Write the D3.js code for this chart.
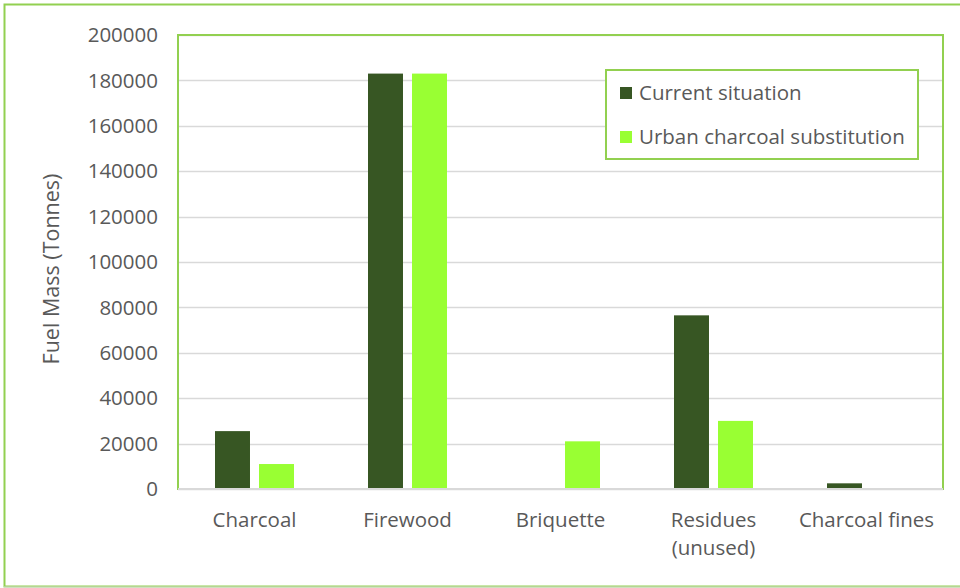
<!DOCTYPE html>
<html><head><meta charset="utf-8">
<script src="https://cdn.jsdelivr.net/npm/d3@7"></script>
<style>body{margin:0;background:#fff;} svg{display:block;}</style>
</head><body>
<svg id="c" width="960" height="588"></svg>
<script>
const categories = ["Charcoal", "Firewood", "Briquette", "Residues\n(unused)", "Charcoal fines"];
const seriesNames = ["Current situation", "Urban charcoal substitution"];
const currentSituation = [25500, 183000, 0, 76500, 2500];
const urbanSubstitution = [11000, 183000, 21000, 30000, 0];
const yTicks = [0, 20000, 40000, 60000, 80000, 100000, 120000, 140000, 160000, 180000, 200000];
const colors = ["#375623", "#99FF33"];

const svg = d3.select("#c");
const font = "'Open Sans', 'Noto Sans', sans-serif";
const textColor = "#595959";

// outer border
svg.append("rect").attr("x", 4.5).attr("y", 4.5).attr("width", 960).attr("height", 582)
  .attr("fill", "none").attr("stroke", "#92D050").attr("stroke-width", 2);
svg.append("line").attr("x1", 4).attr("x2", 960).attr("y1", 587).attr("y2", 587).attr("stroke", "#D9D9D9");

const m = {left: 178, right: 943, top: 35, bottom: 489};
const x0 = d3.scaleBand().domain(categories).range([m.left, m.right]).paddingInner(0).paddingOuter(0);
const x1 = d3.scaleBand().domain(seriesNames).range([37, 116]).paddingInner(0.205);
const y = d3.scaleLinear().domain([0, 200000]).range([m.bottom, m.top]);

// gridlines
svg.append("g").selectAll("line").data(yTicks).join("line")
  .attr("x1", m.left).attr("x2", m.right)
  .attr("y1", d => Math.round(y(d)) + 0.5).attr("y2", d => Math.round(y(d)) + 0.5)
  .attr("stroke", "#D9D9D9").attr("stroke-width", 1.5);

// y tick labels
svg.append("g").selectAll("text").data(yTicks).join("text")
  .attr("x", 158).attr("y", d => y(d)).attr("dy", "0.35em")
  .attr("text-anchor", "end").attr("font-family", font).attr("font-size", 20.5)
  .attr("fill", textColor).text(d => d);

// bars
const data = categories.map((c, i) => ({c, vals: [currentSituation[i], urbanSubstitution[i]]}));
const g = svg.append("g").selectAll("g").data(data).join("g")
  .attr("transform", d => `translate(${x0(d.c)},0)`);
g.selectAll("rect").data(d => d.vals.map((v, j) => ({v, s: seriesNames[j], j}))).join("rect")
  .filter(d => d.v > 0)
  .attr("x", d => x1(d.s)).attr("width", x1.bandwidth())
  .attr("y", d => y(d.v)).attr("height", d => y(0) - y(d.v))
  .attr("fill", d => colors[d.j]);

// plot area border
svg.append("rect").attr("x", m.left).attr("y", m.top).attr("width", m.right - m.left).attr("height", m.bottom - m.top)
  .attr("fill", "none").attr("stroke", "#92D050").attr("stroke-width", 2);
svg.append("line").attr("x1", m.left).attr("x2", m.right).attr("y1", m.bottom).attr("y2", m.bottom)
  .attr("stroke", "#D9D9D9").attr("stroke-width", 2);

// category labels
const cl = svg.append("g").selectAll("text").data(categories).join("text")
  .attr("x", d => x0(d) + x0.bandwidth() / 2).attr("y", 527)
  .attr("text-anchor", "middle").attr("font-family", font).attr("font-size", 20.5).attr("fill", textColor);
cl.each(function(d) {
  const lines = d.split("\n");
  const t = d3.select(this);
  lines.forEach((l, i) => t.append("tspan").attr("x", x0(d) + x0.bandwidth() / 2).attr("dy", i ? 28 : 0).text(l));
});

// y axis title
svg.append("text").attr("transform", "translate(59,269) rotate(-90)")
  .attr("text-anchor", "middle").attr("font-family", font).attr("font-size", 21.5).attr("fill", textColor)
  .text("Fuel Mass (Tonnes)");

// legend
const lg = svg.append("g");
lg.append("rect").attr("x", 606).attr("y", 70).attr("width", 312).attr("height", 89)
  .attr("fill", "#fff").attr("stroke", "#92D050").attr("stroke-width", 2);
seriesNames.forEach((s, i) => {
  const yy = 93 + i * 44;
  lg.append("rect").attr("x", 620).attr("y", yy - 6).attr("width", 12).attr("height", 12).attr("fill", colors[i]);
  lg.append("text").attr("x", 639).attr("y", yy).attr("dy", "0.35em")
    .attr("font-family", font).attr("font-size", 20.5).attr("fill", textColor).text(s);
});
</script>
</body></html>
